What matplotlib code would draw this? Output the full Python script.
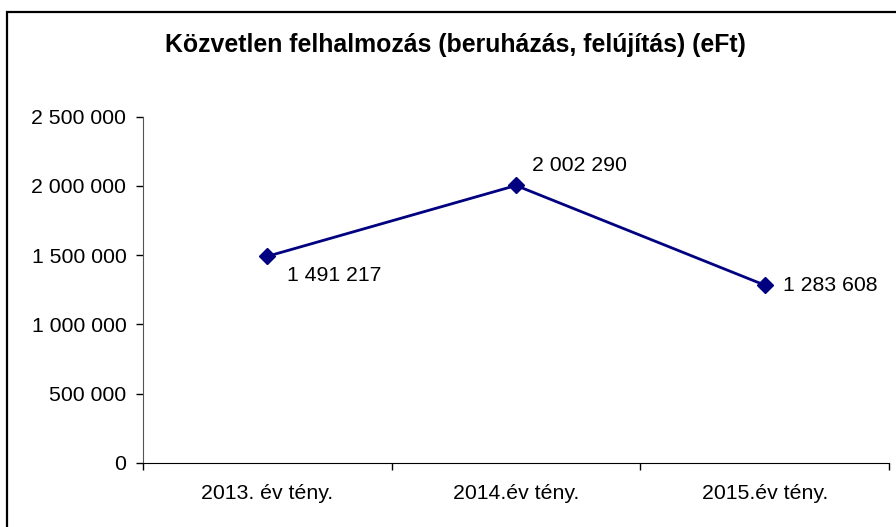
import matplotlib
matplotlib.use('Agg')
import matplotlib.pyplot as plt
from matplotlib.patches import Rectangle
from matplotlib.ticker import FuncFormatter, FixedLocator

plt.rcParams['font.family'] = ['Liberation Sans', 'DejaVu Sans']

CATEGORIES = ['2013. év tény.', '2014.év tény.', '2015.év tény.']
VALUES = [1491217, 2002290, 1283608]
TITLE = 'Közvetlen felhalmozás (beruházás, felújítás) (eFt)'


def hu_fmt(v, pos=None):
    return f'{int(round(v)):,}'.replace(',', ' ')


fig = plt.figure(figsize=(8.96, 5.27), dpi=100)
fig.patches.append(Rectangle((7 / 896, -0.05), 1.0, 1.05 - 12 / 527,
                             transform=fig.transFigure, fill=False,
                             edgecolor='black', lw=1.6))

ax = fig.add_axes([143 / 896, 1 - 463 / 527, (889 - 143) / 896, (463 - 116.5) / 527])
x = list(range(len(CATEGORIES)))
ax.plot(x, VALUES, color='#000080', lw=2.0, marker='D', markersize=8,
        markerfacecolor='#000080', markeredgecolor='#000080')

# data labels (offsets in px)
offsets = [(20, -10, 'top'), (16, 10, 'bottom'), (18, 0, 'center')]
for xi, v, (dx, dy, va) in zip(x, VALUES, offsets):
    ax.annotate(hu_fmt(v), (xi, v), xytext=(dx * 0.72, dy * 0.72),
                textcoords='offset points', ha='left', va=va, fontsize=15.3)

ax.set_xlim(-0.5, 2.5)
ax.set_ylim(0, 2500000)
ax.yaxis.set_major_locator(FixedLocator([0, 500000, 1000000, 1500000, 2000000, 2500000]))
ax.yaxis.set_major_formatter(FuncFormatter(hu_fmt))

ax.xaxis.set_major_locator(FixedLocator([-0.5, 0.5, 1.5, 2.5]))
ax.xaxis.set_major_formatter(FuncFormatter(lambda v, p: ''))
ax.xaxis.set_minor_locator(FixedLocator(x))
ax.set_xticklabels(CATEGORIES, minor=True)
ax.tick_params(axis='x', which='minor', length=0, pad=15, labelsize=15.3)
ax.tick_params(axis='x', which='major', length=5, width=1, direction='out')
ax.tick_params(axis='y', length=5, width=1, direction='out', pad=7, labelsize=15.3)

for s in ['top', 'right']:
    ax.spines[s].set_visible(False)
ax.spines['left'].set_color('#555555')
ax.spines['bottom'].set_color('black')

fig.text(455 / 896, 1 - 45 / 527, TITLE, ha='center', va='center',
         fontsize=17.9, fontweight='bold')

fig.savefig('out.png', dpi=100)
